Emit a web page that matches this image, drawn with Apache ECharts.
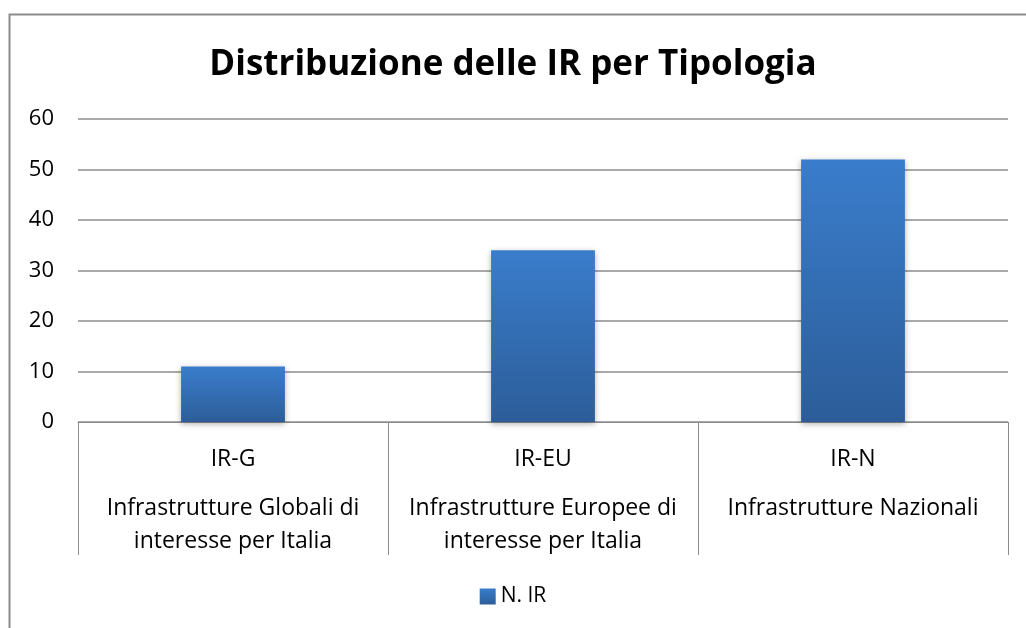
<!DOCTYPE html>
<html>
<head>
<meta charset="utf-8">
<script src="https://cdn.jsdelivr.net/npm/echarts@6/dist/echarts.min.js"></script>
<style>
  html, body { margin: 0; padding: 0; background: #fff; }
  #chart { width: 1026px; height: 628px; }
</style>
</head>
<body>
<div id="chart"></div>
<script>
// dati
const codici = ['IR-G', 'IR-EU', 'IR-N'];
const descrizioni = [
  'Infrastrutture Globali di\ninteresse per Italia',
  'Infrastrutture Europee di\ninteresse per Italia',
  'Infrastrutture Nazionali'
];
const valori = [11, 34, 52];
const nomeSerie = 'N. IR';

const font = '"Open Sans", "Liberation Sans", sans-serif';

function etichetta(value, idx) {
  let righe = descrizioni[idx].split('\n').map(function (r) { return '{b|' + r + '}'; });
  return '{a|' + codici[idx] + '}\n{s|}\n' + righe.join('\n');
}

let chart = echarts.init(document.getElementById('chart'));
let option = {
  animation: false,
  title: {
    text: 'Distribuzione delle IR per Tipologia',
    left: 'center',
    top: 43,
    textStyle: { fontFamily: font, fontWeight: 'bold', fontSize: 35, color: '#000' }
  },
  legend: {
    bottom: 16,
    left: 'center',
    icon: 'rect',
    itemWidth: 16,
    itemHeight: 16,
    itemGap: 4,
    textStyle: { fontFamily: font, fontSize: 21, color: '#000' },
    data: [nomeSerie]
  },
  graphic: [{
    type: 'rect',
    shape: { x: 9.5, y: 14.5, width: 1040, height: 640 },
    style: { fill: 'none', stroke: '#8c8c8c', lineWidth: 2 }
  }],
  grid: { left: 78, right: 18, top: 119, bottom: 206 },
  xAxis: {
    type: 'category',
    data: codici,
    axisLine: { lineStyle: { color: '#8c8c8c', width: 1 } },
    axisTick: { show: true, length: 133, lineStyle: { color: '#8c8c8c' } },
    axisLabel: {
      margin: 20,
      interval: 0,
      formatter: etichetta,
      rich: {
        a: { fontFamily: font, fontSize: 23, lineHeight: 34, color: '#000' },
        s: { fontSize: 10, lineHeight: 16 },
        b: { fontFamily: font, fontSize: 23, lineHeight: 33, color: '#000' }
      }
    }
  },
  yAxis: {
    type: 'value',
    min: 0,
    max: 60,
    interval: 10,
    axisLine: { show: false },
    axisTick: { show: false },
    axisLabel: { margin: 24, fontFamily: font, fontSize: 22, color: '#000' },
    splitLine: { lineStyle: { color: '#8c8c8c', width: 1.5 } }
  },
  series: [{
    name: nomeSerie,
    type: 'bar',
    data: valori,
    barWidth: '33.5%',
    itemStyle: {
      color: new echarts.graphic.LinearGradient(0, 0, 0, 1, [
        { offset: 0, color: '#3a7dcc' },
        { offset: 1, color: '#2c5d99' }
      ]),
      shadowColor: 'rgba(0,0,0,0.3)',
      shadowBlur: 6,
      shadowOffsetY: 2
    }
  }]
};
chart.setOption(option);
</script>
</body>
</html>
